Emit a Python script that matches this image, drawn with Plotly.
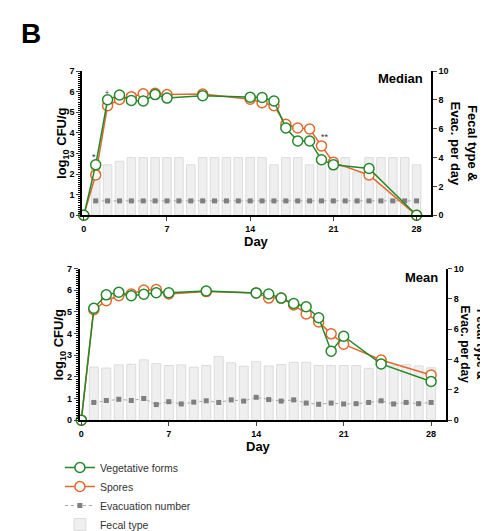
import plotly.graph_objects as go

W, H = 488, 531

# ---------------- data ----------------
days_cfu = [0, 1, 2, 3, 4, 5, 6, 7, 10, 14, 15, 16, 17, 18, 19, 20, 21, 24, 28]
days_bar = list(range(1, 29))

median_veg = [0, 2.45, 5.61, 5.84, 5.58, 5.55, 5.86, 5.69, 5.81, 5.73, 5.72, 5.55,
              4.24, 3.61, 3.61, 2.70, 2.45, 2.27, 0]
median_spo = [0, 1.96, 5.32, 5.62, 5.76, 5.90, 5.92, 5.86, 5.89, 5.64, 5.47, 5.32,
              4.42, 4.24, 4.19, 3.37, 2.57, 1.96, 0]
median_fecal = [3.5, 3.5, 3.75, 4, 4, 4, 4, 4, 3.5, 4, 4, 4, 4, 4, 4, 3.5, 4, 4, 3.5,
                4, 4, 4, 3.0, 4, 4, 4, 4, 3.5]
median_evac = [1.0] * 28

mean_veg = [0, 5.17, 5.79, 5.91, 5.75, 5.82, 5.89, 5.89, 5.97, 5.88, 5.83, 5.64,
            5.39, 5.24, 4.73, 3.19, 3.88, 2.60, 1.79]
mean_spo = [0, 5.10, 5.52, 5.75, 5.83, 6.01, 6.04, 5.83, 5.94, 5.88, 5.64, 5.64,
            5.32, 4.91, 4.54, 3.99, 3.51, 2.78, 2.09]
mean_fecal = [3.50, 3.44, 3.65, 3.69, 3.98, 3.73, 3.61, 3.65, 3.50, 3.61, 4.21, 3.79,
              3.56, 3.86, 3.58, 3.67, 3.82, 3.82, 3.61, 3.61, 3.61, 3.61, 3.42, 3.60,
              3.60, 3.67, 3.58, 3.46]
mean_evac = [1.17, 1.30, 1.38, 1.30, 1.43, 1.03, 1.22, 1.07, 1.19, 1.28, 1.17, 1.34,
             1.26, 1.51, 1.36, 1.26, 1.34, 1.13, 1.05, 1.13, 1.07, 1.09, 1.17, 1.28,
             1.07, 1.17, 1.09, 1.17]

x_ticks = [0, 7, 14, 21, 28]

GREEN = "#23882a"
ORANGE = "#e2682b"
GREY = "#7f7f7f"
BAR_FILL = "#efefef"
BAR_LINE = "#dcdcdc"

fig = go.Figure()


def add_panel(xa, ya_right, ya_left, veg, spo, fecal, evac, show):
    fig.add_trace(go.Bar(
        x=days_bar, y=fecal, xaxis=xa, yaxis=ya_right, width=0.72,
        marker=dict(color=BAR_FILL, line=dict(color=BAR_LINE, width=1)),
        name="Fecal type", showlegend=show, legendrank=4))
    fig.add_trace(go.Scatter(
        x=days_bar, y=evac, xaxis=xa, yaxis=ya_right, mode="lines+markers",
        line=dict(color="#a8a8a8", width=1, dash="dot"),
        marker=dict(symbol="square", size=5, color=GREY),
        name="Evacuation number", showlegend=show, legendrank=3, cliponaxis=False))
    fig.add_trace(go.Scatter(
        x=days_cfu, y=spo, xaxis=xa, yaxis=ya_left, mode="lines+markers",
        line=dict(color=ORANGE, width=1.5),
        marker=dict(symbol="circle", size=10, color="white",
                    line=dict(color=ORANGE, width=1.5)),
        name="Spores", showlegend=show, legendrank=2, cliponaxis=False))
    fig.add_trace(go.Scatter(
        x=days_cfu, y=veg, xaxis=xa, yaxis=ya_left, mode="lines+markers",
        line=dict(color=GREEN, width=1.5),
        marker=dict(symbol="circle", size=10, color="white",
                    line=dict(color=GREEN, width=1.5)),
        name="Vegetative forms", showlegend=show, legendrank=1, cliponaxis=False))


add_panel("x", "y", "y2", median_veg, median_spo, median_fecal, median_evac, False)
add_panel("x2", "y3", "y4", mean_veg, mean_spo, mean_fecal, mean_evac, True)

tickfont = dict(family="Liberation Sans, Arial", size=9, color="black", weight="bold")
common_x = dict(range=[-0.14, 29.2], tickvals=x_ticks, ticks="outside", ticklen=4,
                tickwidth=1.2, showline=True, linewidth=1.5, linecolor="black",
                showgrid=False, zeroline=False, tickfont=tickfont, fixedrange=True)
common_right = dict(range=[0, 10], dtick=2, side="right", ticks="outside", ticklen=4,
                    tickwidth=1.2, showline=True, linewidth=1.5, linecolor="black",
                    showgrid=False, zeroline=False, tickfont=tickfont)
common_left = dict(range=[0, 7], dtick=1, side="left", ticks="outside", ticklen=4,
                   tickwidth=1.2, showline=True, linewidth=1.5, linecolor="black",
                   showgrid=False, zeroline=False, tickfont=tickfont,
                   minor=dict(dtick=0.1, ticks="outside", ticklen=2, tickwidth=0.8,
                              tickcolor="black", showgrid=False))


def px_x(p):
    return p / W


def px_y(p):
    return 1 - p / H


fig.update_layout(
    width=W, height=H,
    margin=dict(l=0, r=0, t=0, b=0),
    paper_bgcolor="white", plot_bgcolor="rgba(0,0,0,0)",
    barmode="overlay",
    xaxis=dict(domain=[px_x(73.3), px_x(422.7)], anchor="y", **common_x),
    yaxis=dict(domain=[px_y(212.3), px_y(61)], anchor="x", **common_right),
    yaxis2=dict(overlaying="y", anchor="x", **common_left),
    xaxis2=dict(domain=[px_x(70.7), px_x(438)], anchor="y3", **common_x),
    yaxis3=dict(domain=[px_y(427.3), px_y(268.3)], anchor="x2", **common_right),
    yaxis4=dict(overlaying="y3", anchor="x2", **common_left),
    legend=dict(x=px_x(51), y=px_y(462), xanchor="left", yanchor="top",
                font=dict(family="Liberation Sans, Arial", size=10.5, color="#333"),
                tracegroupgap=0, itemwidth=30, bgcolor="rgba(0,0,0,0)"),
    showlegend=True,
)

title_font = dict(family="Liberation Sans, Arial", size=13, color="black", weight="bold")
ann = []
ann.append(dict(text="<b>B</b>", x=px_x(10), y=px_y(22), xref="paper", yref="paper",
                xanchor="left", yanchor="middle", showarrow=False,
                font=dict(family="Liberation Sans, Arial", size=28, color="black")))
# panel labels
ann.append(dict(text="<b>Median</b>", x=px_x(417), y=px_y(69), xref="paper", yref="paper",
                xanchor="right", yanchor="middle", showarrow=False, font=title_font))
ann.append(dict(text="<b>Mean</b>", x=px_x(432), y=px_y(278), xref="paper", yref="paper",
                xanchor="right", yanchor="middle", showarrow=False, font=title_font))
# axis titles top
ann.append(dict(text="<b>log<sub>10</sub> CFU/g</b>", x=px_x(53), y=px_y(136.5),
                xref="paper", yref="paper", textangle=-90, showarrow=False,
                xanchor="center", yanchor="middle", font=title_font))
ann.append(dict(text="<b>Fecal type &<br>Evac. per day</b>", x=px_x(456), y=px_y(137),
                xref="paper", yref="paper", textangle=90, showarrow=False,
                xanchor="center", yanchor="middle", font=title_font))
ann.append(dict(text="<b>Day</b>", x=px_x(248), y=px_y(240), xref="paper", yref="paper",
                showarrow=False, xanchor="center", yanchor="middle", font=title_font))
# axis titles bottom
ann.append(dict(text="<b>log<sub>10</sub> CFU/g</b>", x=px_x(51), y=px_y(348),
                xref="paper", yref="paper", textangle=-90, showarrow=False,
                xanchor="center", yanchor="middle", font=title_font))
ann.append(dict(text="<b>Fecal type &<br>Evac. per day</b>", x=px_x(465), y=px_y(348),
                xref="paper", yref="paper", textangle=90, showarrow=False,
                xanchor="center", yanchor="middle",
                font=dict(family="Liberation Sans, Arial", size=12, color="black")))
ann.append(dict(text="<b>Day</b>", x=px_x(250), y=px_y(455), xref="paper", yref="paper",
                showarrow=False, xanchor="center", yanchor="middle", font=title_font))
# significance marks
sig_font = dict(family="Liberation Sans, Arial", size=9, color="#333")
ann.append(dict(text="*", x=0.85, y=2.85, xref="x", yref="y2", showarrow=False, font=sig_font))
ann.append(dict(text="+", x=1.96, y=5.97, xref="x", yref="y2", showarrow=False,
                font=dict(family="Liberation Sans, Arial", size=7, color="#333")))
ann.append(dict(text="**", x=20.3, y=3.78, xref="x", yref="y2", showarrow=False, font=sig_font))

fig.update_layout(annotations=ann)

fig.write_html("out.html")
